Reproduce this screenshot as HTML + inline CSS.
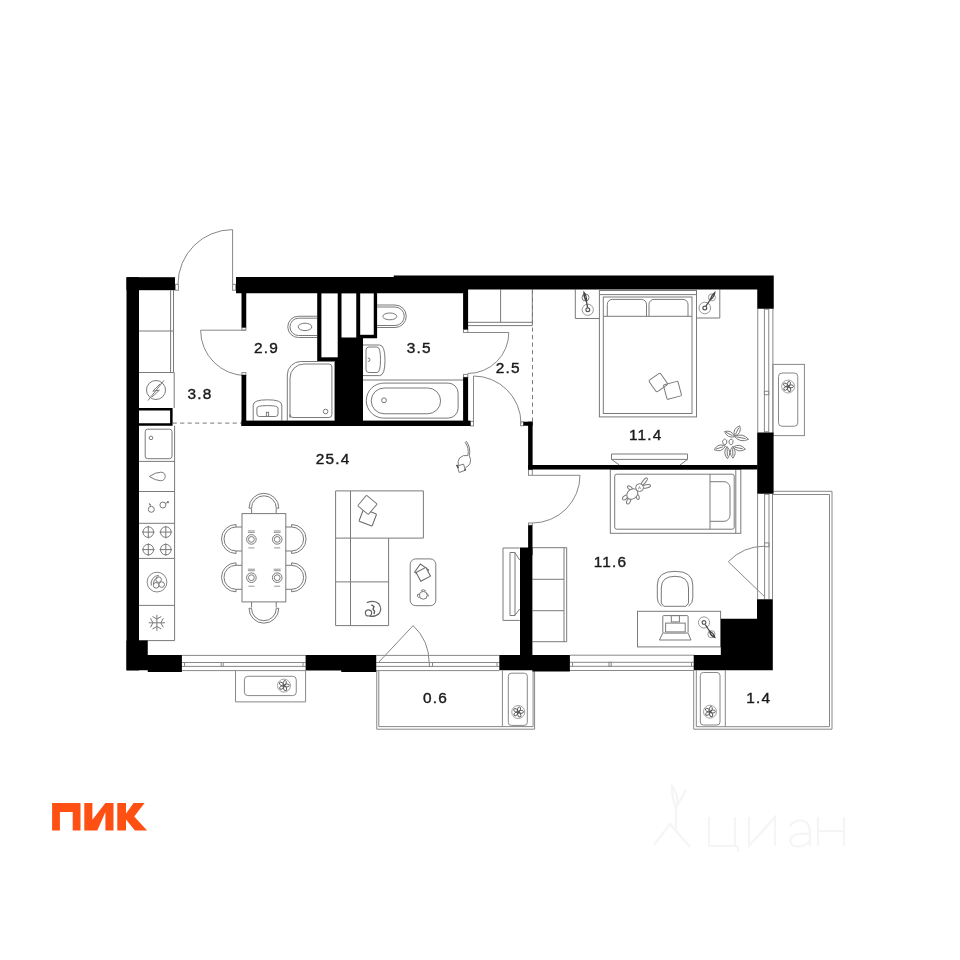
<!DOCTYPE html>
<html><head><meta charset="utf-8">
<style>
html,body{margin:0;padding:0;background:#fff;width:960px;height:960px;overflow:hidden}
svg{display:block;will-change:transform}
.t{font-family:"Liberation Sans",sans-serif;font-size:15.4px;fill:#1a1a1a;stroke:#1a1a1a;stroke-width:0.4px;letter-spacing:1.15px}
</style></head><body>
<svg width="960" height="960" viewBox="0 0 960 960">
<rect width="960" height="960" fill="#fff"/>

<!-- ============ FIXTURES (thin gray lines) ============ -->
<g id="fix" fill="none" stroke="#7a7a7a" stroke-width="1">
  <path d="M170.6,290.3 V372.5 M173.5,290.3 V372.5 M139,331 H173.5 M139,372.5 H174.2 M174.2,372.5 V408"/>
  <circle cx="156" cy="390" r="9.5"/><path d="M148,400.5 L164,380.3 M160.2,383.8 L152.8,391.2 L159.4,390.2 L152,397"/>
  <path d="M174.6,425.7 V640.6 M139,461.4 H174.6 M139,491.5 H174.6 M139,523.3 H174.6 M139,558.4 H174.6 M139,605.4 H174.6 M139,640.6 H174.6"/>
  <rect x="145.2" y="429.2" width="26.8" height="29.5" rx="2.5"/><circle cx="151" cy="437.9" r="1.8"/>
  <path d="M149.3,476.5 Q155.5,472.2 160.8,472.2 Q165.4,472.4 165.2,476.6 Q164.8,480.8 160.4,480.7 Q155.6,480.6 149.3,476.5 Z"/>
  <circle cx="151.3" cy="509.3" r="3"/><path d="M150.6,506.3 L149.3,503.6 L150.8,504.8"/><circle cx="162.9" cy="505" r="3"/><path d="M165.4,503.4 L168.6,501.8 M167,501.6 L168.6,501.8 L168,503.3"/>
  <circle cx="148.3" cy="532.1" r="5.3"/><path d="M142.0,532.1 H154.60000000000002 M148.3,525.8000000000001 V538.4"/>
  <circle cx="148.3" cy="549.6" r="5.3"/><path d="M142.0,549.6 H154.60000000000002 M148.3,543.3000000000001 V555.9"/>
  <circle cx="165.8" cy="532.1" r="5.3"/><path d="M159.5,532.1 H172.10000000000002 M165.8,525.8000000000001 V538.4"/>
  <circle cx="165.8" cy="549.6" r="5.3"/><path d="M159.5,549.6 H172.10000000000002 M165.8,543.3000000000001 V555.9"/>
  <circle cx="157" cy="582.1" r="9.9" stroke="#888"/><circle cx="158.6" cy="579.6" r="2.8"/><circle cx="156.1" cy="585.3" r="2.8"/><circle cx="161.7" cy="584.6" r="2.8"/><path d="M151.3,585.5 A8.2,8.2 0 0 1 158.8,575.3 M153.4,584.5 A6.6,6.6 0 0 1 158.3,577.4" stroke="#777"/>
  <path d="M148.8,622.8 H165 M156.9,614.8 V630.8 M152.5,616.5 L156.9,619 L161.3,616.5 M152.5,629 L156.9,626.5 L161.3,629 M150.5,618.3 L153,622.8 L150.5,627.3 M163.3,618.3 L160.8,622.8 L163.3,627.3"/>
  <path d="M172.6,423.1 H241.5" stroke-dasharray="4.2 3.3"/>
  <path d="M532.5,290 V421.7" stroke-dasharray="4.2 3.3"/>
  <rect x="242" y="513.6" width="43.8" height="88.3"/>
  <path d="M249.00,508.20 A14.9,14.9 0 0 1 278.80,508.20 L276.30,508.20 A12.4,12.4 0 0 0 251.50,508.20 Z"/>
  <path d="M251.6,508.5 V513.6 M276.2,508.5 V513.6"/>
  <path d="M278.80,608.30 A14.9,14.9 0 0 1 249.00,608.30 L251.50,608.30 A12.4,12.4 0 0 0 276.30,608.30 Z"/>
  <path d="M251.6,601.9 V607.5 M276.2,601.9 V607.5"/>
  <path d="M236.00,553.50 A14.5,14.5 0 0 1 236.00,524.50 L236.00,527.00 A12.0,12.0 0 0 0 236.00,551.00 Z"/><path d="M236,527 H242 M236,551 H242"/>
  <path d="M291.60,524.50 A14.5,14.5 0 0 1 291.60,553.50 L291.60,551.00 A12.0,12.0 0 0 0 291.60,527.00 Z"/><path d="M285.8,527 H291.6 M285.8,551 H291.6"/>
  <path d="M236.00,591.80 A14.5,14.5 0 0 1 236.00,562.80 L236.00,565.30 A12.0,12.0 0 0 0 236.00,589.30 Z"/><path d="M236,565.3 H242 M236,589.3 H242"/>
  <path d="M291.60,562.80 A14.5,14.5 0 0 1 291.60,591.80 L291.60,589.30 A12.0,12.0 0 0 0 291.60,565.30 Z"/><path d="M285.8,565.3 H291.6 M285.8,589.3 H291.6"/>
  <circle cx="251.4" cy="539.4" r="4.8"/><circle cx="251.4" cy="539.4" r="2.9"/><path d="M247.9,530.9 H254.9 M247.9,532.4 H254.9 M248.4,547.9 H254.4" stroke-width="0.8"/>
  <circle cx="251.4" cy="577.7" r="4.8"/><circle cx="251.4" cy="577.7" r="2.9"/><path d="M247.9,569.2 H254.9 M247.9,570.7 H254.9 M248.4,586.2 H254.4" stroke-width="0.8"/>
  <circle cx="277.2" cy="539.4" r="4.8"/><circle cx="277.2" cy="539.4" r="2.9"/><path d="M273.7,530.9 H280.7 M273.7,532.4 H280.7 M274.2,547.9 H280.2" stroke-width="0.8"/>
  <circle cx="277.2" cy="577.7" r="4.8"/><circle cx="277.2" cy="577.7" r="2.9"/><path d="M273.7,569.2 H280.7 M273.7,570.7 H280.7 M274.2,586.2 H280.2" stroke-width="0.8"/>
  <path d="M335.6,490.9 H423.4 V538.1 H388.6 V625.6 H335.6 Z M350.5,490.9 V625.6 M335.6,538.1 H388.6 M335.6,581.9 H388.6"/>
  <rect x="-7" y="-6.5" width="14" height="13" rx="1" transform="translate(367.8,517.6) rotate(21)" stroke="#666"/>
  <rect x="-6.9" y="-6.9" width="13.8" height="13.8" rx="1" transform="translate(367.4,504.9) rotate(40)" fill="#fff"/>
  <path d="M366.8,602.6 Q374.5,599.5 379,604 Q382.3,609 379.2,613.5 Q375.5,617 369.8,616.3" stroke="#666" stroke-width="1.2"/><circle cx="368.5" cy="612.9" r="3.1" stroke="#666" stroke-width="1.2"/><path d="M371.3,604.8 L374,606.5 L373,609.2 L374.6,611.5 L374,614" stroke="#555" stroke-width="1.3"/>
  <rect x="410.2" y="558.9" width="25.6" height="46.8" rx="5.5"/>
  <rect x="-5" y="-5" width="10" height="10" transform="translate(421.6,571) rotate(35)" stroke="#666"/><rect x="-5.5" y="-5" width="11" height="10" transform="translate(423.3,574.3) rotate(-28)" fill="#fff" stroke="#666"/>
  <circle cx="423.3" cy="595.3" r="3.9" stroke="#777"/><path d="M419.5,594 Q416.8,593.5 417.5,596.5 Q418.3,598 419.8,597 M426.8,593.5 Q428.5,594 428.4,596.5 M421,590.5 Q423.5,588.8 425.8,590.8" stroke="#777"/>
  <path d="M519.7,548 H503 V620.4 H519.7 M510,552.5 H515 V615.5 H510 Z M514.8,552.5 L519.7,560 M514.8,615.5 L519.7,609"/>
  <path d="M465.2,442.3 Q469.2,447.5 467.9,455.6 M466.6,441.6 Q470.8,447.5 469.4,455.8 M465.3,442.3 Q465.8,441.3 466.6,441.6"/><path d="M467.9,455.6 Q463,454.5 459.5,458 Q457.5,461 458.3,465.5 M469.4,455.8 Q471.5,459.5 470,463.5 Q468.5,466.5 465.5,467.5"/><path d="M457.2,466 L463.5,464.2 L465.5,470.2 L459.2,472.5 Z"/><path d="M456.5,465 L458.6,467.8 M464.4,470.5 L465.8,468.8" stroke-width="1.3" stroke="#444"/>
  <path d="M317,316.25 H298.4 A10.6,10.6 0 0 0 298.4,337.5 H317 M317,318.2 H298.6 A8.65,8.65 0 0 0 298.6,335.5 H317"/><ellipse cx="305" cy="326.9" rx="6.8" ry="3.7"/>
  <path d="M287.3,420.6 V375 A13.5,13.5 0 0 1 300.8,361.5 H334.8 V420.6"/><path d="M290,417.5 V378 A14,14 0 0 1 304,364 H328.9 A3,3 0 0 1 331.9,367 V414.5 A3,3 0 0 1 328.9,417.5 H293 A3,3 0 0 1 290,414.5 Z"/><circle cx="325.6" cy="411.5" r="2.3"/>
  <path d="M253.2,420.6 V405 Q253.2,399.8 267.5,399.8 Q281.8,399.8 281.8,405 V420.6"/><path d="M256.9,408 Q256.9,405.6 267.5,405.6 Q278,405.6 278,408 V414 Q278,416.5 275.5,416.5 H259.4 Q256.9,416.5 256.9,414 Z"/><rect x="266.4" y="412.3" width="2.2" height="4"/>
  <path d="M377.1,305 H395 A11.25,11.25 0 0 1 395,327.5 H377.1 M377.1,307 H395 A9.25,9.25 0 0 1 395,325.5 H377.1"/><ellipse cx="389.8" cy="316.4" rx="7" ry="3.4"/>
  <path d="M362.9,345 H379.5 Q385,345 385,360.3 Q385,375.6 379.5,375.6 H362.9"/><path d="M366,350 Q366,347 369,347 H377 Q380.5,347 380.5,359.8 Q380.5,372.5 377,372.5 H369 Q366,372.5 366,369.5 Z"/><path d="M367.8,358 Q370,358 370,359.8 Q370,361.5 367.8,361.5"/>
  <path d="M363,380 H463.1"/><path d="M383.8,383.1 H448.1 A10,10 0 0 1 458.1,393.1 V408.1 A10,10 0 0 1 448.1,418.1 H383.8 A17.5,17.5 0 0 1 383.8,383.1 Z"/><rect x="371.25" y="388" width="69.35" height="25.75" rx="12.875"/><circle cx="384" cy="400.25" r="2.4"/>
  <path d="M468,325.6 H532.3 V289.5 M468,322.3 H532.3 M500.6,289.5 V322.3"/>
  <path d="M575.3,289.5 V318.5 H599.4 M696.5,318 H719.8 V289.5"/>
  <rect x="599.4" y="290.5" width="97.1" height="126.4"/><path d="M599.4,294.6 H696.5"/><rect x="603.3" y="297" width="88.7" height="116.5"/><path d="M603.3,316.3 H692"/>
  <path d="M607.3,316.3 V304.4 A5,5 0 0 1 612.3,299.4 H641.5 A5,5 0 0 1 646.5,304.4 V316.3 M649,316.3 V304.4 A5,5 0 0 1 654,299.4 H683 A5,5 0 0 1 688,304.4 V316.3"/>
  <circle cx="587.8" cy="309.8" r="5.6" stroke="#999"/><circle cx="587.8" cy="309.8" r="1.9" stroke="#555" stroke-width="1.2"/><circle cx="585.5" cy="297.5" r="3.5" stroke="#777"/><path d="M587.6,307.6 L586.5,301.5 M586.5,301.5 Q583.5,297 584,292.3 Q586.8,296 586.5,301.5 Z" stroke="#444" stroke-width="1.3"/>
  <circle cx="704.8" cy="308" r="5.8" stroke="#999"/><circle cx="704.8" cy="308" r="1.9" stroke="#555" stroke-width="1.2"/><circle cx="711.9" cy="297.4" r="3.5" stroke="#999"/><path d="M706,306 L710,300 M710,300 Q711.5,295 714.8,292.5 Q714,297.5 710,300 Z" stroke="#444" stroke-width="1.3"/>
  <rect x="-7" y="-7" width="14" height="14" rx="1.5" transform="translate(658.3,382.5) rotate(-35)"/><rect x="-7.5" y="-7.5" width="15" height="15" rx="1" transform="translate(672.5,390.3) rotate(-15)"/>
  <path d="M611.5,454 H687.5 V459.4 H611.5 Z M611.5,459.4 L619.4,465 M687.5,459.4 L680,465"/>
  <path id="plant" d="M734.5,436.2 Q742.1,433.5 739.8,425.8 Q732.2,428.5 734.5,436.2 Z M735.3,434.6 L738.7,427.9 M724.6,431.5 Q727.2,438.5 734.5,436.7 Q731.9,429.7 724.6,431.5 Z M726.1,432.3 L732.5,435.7 M734.5,436.5 Q740.4,443.3 748.5,439.3 Q742.6,432.5 734.5,436.5 Z M736.6,436.9 L745.7,438.7 M714.2,449.7 Q721.6,453.1 725.5,446.0 Q718.1,442.6 714.2,449.7 Z M715.9,449.1 L723.2,446.7 M733.0,447.0 Q738.2,453.5 745.4,449.2 Q740.2,442.7 733.0,447.0 Z M734.9,447.3 L742.9,448.8 M727.0,446.5 Q722.3,452.9 727.5,458.8 Q732.2,452.4 727.0,446.5 Z M727.1,448.3 L727.4,456.3 M732.5,446.5 Q727.8,452.6 733.0,458.2 Q737.7,452.1 732.5,446.5 Z M732.6,448.3 L732.9,455.9"/><path d="M722.5,441.5 Q724,437.5 726.5,440 Q728,443.5 725,445 Q722.5,444.5 722.5,441.5 Z M729,441 Q731,437.5 733,440.5 Q733.5,444 731,445 Q728.5,444 729,441 Z"/>
  <rect x="610.3" y="469.5" width="130.5" height="63.8"/><path d="M735.8,469.5 V533.3"/><rect x="614.7" y="474.2" width="119.5" height="55" rx="2"/><path d="M710,474.2 V529.2 M710,481.7 H724 A6,6 0 0 1 730,487.7 V515.3 A6,6 0 0 1 724,521.3 H710"/>
  <ellipse cx="644.3" cy="481.5" rx="4.4" ry="1.5" transform="rotate(-52 644.3 481.5)"/><ellipse cx="646.3" cy="486.4" rx="4.3" ry="1.6" transform="rotate(-12 646.3 486.4)"/><ellipse cx="629.9" cy="487.9" rx="2.7" ry="1.5" transform="rotate(35 629.9 487.9)"/><ellipse cx="637.6" cy="496.8" rx="2.7" ry="1.5" transform="rotate(75 637.6 496.8)"/><ellipse cx="625.1" cy="497.5" rx="3.1" ry="1.7" transform="rotate(-40 625.1 497.5)"/><ellipse cx="628.6" cy="501.1" rx="3.1" ry="1.7" transform="rotate(-62 628.6 501.1)"/><ellipse cx="632.3" cy="494" rx="6" ry="4.7" transform="rotate(-40 632.3 494)" fill="#fff"/><circle cx="639.6" cy="487.6" r="3.9" fill="#fff"/><path d="M638.5,489 L639.5,486.5 L640.5,489" stroke-width="0.7"/>
  <path d="M532.4,547.7 H566.7 V641.7 H532.4 M564,547.7 V641.7 M532.4,579.3 H564 M532.4,610.7 H564"/>
  <path d="M661.5,606.3 Q657.3,603 657.3,598 V585 Q657.3,571.3 675,571.3 Q692.8,571.3 692.8,585 V598 Q692.8,603 688.5,606.3 M661.3,603 V588 Q661.3,576.3 675,576.3 Q688.5,576.3 688.5,588 V603 L686,606.3 H663.8 Z"/>
  <rect x="637.5" y="611.3" width="83.1" height="35.6"/>
  <rect x="662.8" y="615.6" width="25.3" height="17.5" rx="1"/><rect x="671.3" y="615.6" width="8.1" height="6.3"/><rect x="665.6" y="623.1" width="19.6" height="8.8"/><path d="M662.8,633.1 L659.4,640 H691 L688.1,633.1"/>
  <circle cx="704" cy="622.5" r="5.6" stroke="#999"/><circle cx="704" cy="622.5" r="1.9" stroke="#555" stroke-width="1.2"/><circle cx="711.4" cy="634.2" r="3.6" stroke="#999"/><path d="M705.2,624.5 L709.5,631 M709.5,631 Q713.5,633 714.8,637.3 Q710.5,636 709.5,631 Z" stroke="#444" stroke-width="1.3"/>
</g>

<!-- ============ WINDOWS / BALCONIES ============ -->
<g id="win" fill="none" stroke="#888" stroke-width="1">
  <!-- right window bedroom1 -->
  <path d="M757.75,308.75 V432.5 M764.4,308.75 V432.5 M768.75,308.75 V432.5 M772.9,308.75 V432.5 M764.4,309.2 H768.75 M764.4,431.8 H768.75"/>
  <rect x="764.4" y="391.25" width="4.35" height="3.5"/>
  <!-- right balcony door bedroom2 -->
  <path d="M757.6,493.75 V599.2 M764.6,493.75 V599.2 M769,493.75 V599.2 M772.5,493.75 V599.2 M764.6,494.3 H769"/>
  <rect x="764.6" y="542.9" width="4.4" height="3.8"/>
  <!-- bottom window left -->
  <path d="M181.9,655.4 H305.6 M181.9,662.5 H305.6 M181.9,666.4 H305.6 M181.9,670.6 H305.6 M184.5,662.5 V666.4 M303,662.5 V666.4"/>
  <rect x="221.2" y="662.5" width="2" height="3.9"/>
  <!-- bottom door living -->
  <path d="M376.25,655.4 H499.3 M376.25,662.5 H499.3 M376.25,666.4 H499.3 M376.25,670.6 H499.3 M497,662.5 V666.4"/>
  <rect x="429.4" y="662.5" width="3.1" height="4"/>
  <!-- bottom window bedroom2 -->
  <path d="M569.9,655.2 H693.9 M569.9,662.3 H693.9 M569.9,666.3 H693.9 M569.9,670.5 H693.9 M572.5,662.3 V666.3 M691.5,662.3 V666.3"/>
  <rect x="609" y="662.3" width="2.2" height="4"/>
  <!-- balcony 0.6 -->
  <path d="M376.75,670.6 V729.2 H534.6 V670.6 M378.8,670.6 V726.6 H533.1 V670.6"/>
  <path d="M502.4,670.6 V726.6"/>
  <rect x="508.3" y="673.2" width="19" height="52.2" rx="3"/>
  <!-- balcony 1.4 -->
  <path d="M773.6,491.3 H832 V729.2 H693.7 V670.3 M772.2,494.5 H829.5 V726.7 H696.3 V670.3"/>
  <path d="M725.3,670.3 V726.7"/>
  <rect x="700.3" y="672.5" width="19.7" height="52.5" rx="3"/>
  <!-- AC right -->
  <rect x="772.9" y="364.4" width="31.5" height="71.2"/>
  <rect x="778.5" y="373" width="19.25" height="53.25" rx="3.5"/>
  <!-- AC bottom-left -->
  <path d="M235.5,670.6 V701.9 H305.6 V670.6"/>
  <rect x="244.4" y="676.25" width="51.85" height="19.35" rx="3.5"/>
</g>

<!-- ============ DOORS ============ -->
<g id="doors" fill="none" stroke="#888" stroke-width="1">
  <!-- entrance -->
  <rect x="175.4" y="284.3" width="3" height="5.9"/>
  <rect x="232.6" y="284.3" width="3" height="5.9"/>
  <path d="M232.6,284.3 V229.6 A54.6,54.6 0 0 0 178,284.3"/>
  <!-- bath 2.9 -->
  <rect x="241.9" y="327.6" width="4" height="2.6"/>
  <rect x="241.9" y="372.6" width="4" height="2.5"/>
  <path d="M245.9,330.2 H200.6 A45.3,45.3 0 0 0 245.9,375.5"/>
  <!-- bath 3.5 -->
  <rect x="463.5" y="329.4" width="4.3" height="3.1"/>
  <rect x="463.5" y="374.4" width="4.3" height="2.9"/>
  <path d="M467.8,332.5 H508.8 A41,41 0 0 1 467.8,373.5"/>
  <!-- hall to living -->
  <rect x="470.5" y="421.4" width="3" height="4.5"/>
  <rect x="520.6" y="421.8" width="2.8" height="3.9"/>
  <path d="M473.5,421.4 V376 A47.5,47.5 0 0 1 521,423.5"/>
  <!-- bedroom2 door -->
  <rect x="528.5" y="469.6" width="3.8" height="5.7"/>
  <rect x="528.5" y="523" width="3.8" height="2.3"/>
  <path d="M532.3,475.3 H580 A47.7,47.7 0 0 1 532.3,523"/>
  <!-- balcony door living -->
  <path d="M378.5,662.5 L413.1,625.6 A50.6,50.6 0 0 1 429.1,662.5"/>
  <!-- balcony door bedroom2 -->
  <path d="M764.6,596.7 L728.3,561.7 A50.5,50.5 0 0 1 764.6,546.2"/>
</g>

<!-- ============ WALLS ============ -->
<g id="walls" fill="#000">
  <rect x="126.5" y="277.2" width="48.5" height="13"/>
  <rect x="126.5" y="277.2" width="12.5" height="393.2"/>
  <path d="M236,277 L393.75,277 L393.75,275.6 L773.75,275.6 L773.75,308.75 L757.25,308.75 L757.25,289.5 L468,289.5 L468,293.3 L236,293.3 Z"/>
  <rect x="241.5" y="293" width="4.75" height="34.5"/>
  <rect x="241.5" y="375" width="4.75" height="51"/>
  <rect x="241.5" y="420.6" width="229" height="5.4"/>
  <rect x="463.1" y="289" width="5" height="40.4"/>
  <rect x="463.1" y="377.25" width="5" height="48.75"/>
  <path d="M317.2,293 L377.1,293 L377.1,338.2 L363,338.2 L363,426 L334.9,426 L334.9,361.1 L317.2,361.1 Z"/>
  <rect x="523.4" y="421.7" width="9.2" height="4.05"/>
  <rect x="528.1" y="421.7" width="4.5" height="47.8"/>
  <rect x="528.1" y="465" width="229.5" height="4.5"/>
  <rect x="528.1" y="525.3" width="4.4" height="30"/>
  <rect x="520" y="547.5" width="12.4" height="110"/>
  <path d="M499.3,655 L569.9,655 L569.9,671.5 L532.4,671.5 L532.4,670.3 L499.3,670.3 Z"/>
  <rect x="757.2" y="432.5" width="16.4" height="61.25"/>
  <path d="M757,599.2 L772.8,599.2 L772.8,670.3 L693.7,670.3 L693.7,655 L720.8,655 L720.8,618.7 L757,618.7 Z"/>
  <path d="M126.5,640.6 L147.75,640.6 L147.75,655 L181.9,655 L181.9,671.9 L147.75,671.9 L147.75,670.3 L126.5,670.3 Z"/>
  <path d="M305.6,655 L376.25,655 L376.25,671.9 L341.25,671.9 L341.25,670.6 L305.6,670.6 Z"/>
  <!-- kitchen thick outline box -->
  <path d="M139,408 L172.6,408 L172.6,425.7 L139,425.7 Z M139,410.5 L139,423.2 L170.1,423.2 L170.1,410.5 Z" fill-rule="evenodd"/>
</g>
<g fill="#fff">
  <rect x="321.4" y="293.4" width="16.3" height="63.9"/>
  <rect x="341.5" y="293.4" width="14.75" height="44.1"/>
  <rect x="360.2" y="293.4" width="13.55" height="41.4"/>
</g>

<g id="fans" fill="none" stroke="#555" stroke-width="0.9"><circle cx="788.1" cy="386.5" r="6.5" stroke="#999"/><ellipse cx="788.80" cy="383.89" rx="2.6" ry="1.5" transform="rotate(-75 788.80 383.89)"/><ellipse cx="790.80" cy="386.36" rx="2.6" ry="1.5" transform="rotate(-3 790.80 386.36)"/><ellipse cx="789.07" cy="389.02" rx="2.6" ry="1.5" transform="rotate(69 789.07 389.02)"/><ellipse cx="786.00" cy="388.20" rx="2.6" ry="1.5" transform="rotate(141 786.00 388.20)"/><ellipse cx="785.84" cy="385.03" rx="2.6" ry="1.5" transform="rotate(213 785.84 385.03)"/><circle cx="788.1" cy="386.5" r="0.9" fill="#555" stroke="none"/><circle cx="284" cy="685.6" r="6.5" stroke="#999"/><ellipse cx="284.70" cy="682.99" rx="2.6" ry="1.5" transform="rotate(-75 284.70 682.99)"/><ellipse cx="286.70" cy="685.46" rx="2.6" ry="1.5" transform="rotate(-3 286.70 685.46)"/><ellipse cx="284.97" cy="688.12" rx="2.6" ry="1.5" transform="rotate(69 284.97 688.12)"/><ellipse cx="281.90" cy="687.30" rx="2.6" ry="1.5" transform="rotate(141 281.90 687.30)"/><ellipse cx="281.74" cy="684.13" rx="2.6" ry="1.5" transform="rotate(213 281.74 684.13)"/><circle cx="284" cy="685.6" r="0.9" fill="#555" stroke="none"/><circle cx="518.25" cy="712" r="6.5" stroke="#999"/><ellipse cx="518.95" cy="709.39" rx="2.6" ry="1.5" transform="rotate(-75 518.95 709.39)"/><ellipse cx="520.95" cy="711.86" rx="2.6" ry="1.5" transform="rotate(-3 520.95 711.86)"/><ellipse cx="519.22" cy="714.52" rx="2.6" ry="1.5" transform="rotate(69 519.22 714.52)"/><ellipse cx="516.15" cy="713.70" rx="2.6" ry="1.5" transform="rotate(141 516.15 713.70)"/><ellipse cx="515.99" cy="710.53" rx="2.6" ry="1.5" transform="rotate(213 515.99 710.53)"/><circle cx="518.25" cy="712" r="0.9" fill="#555" stroke="none"/><circle cx="710" cy="711.7" r="6.5" stroke="#999"/><ellipse cx="710.70" cy="709.09" rx="2.6" ry="1.5" transform="rotate(-75 710.70 709.09)"/><ellipse cx="712.70" cy="711.56" rx="2.6" ry="1.5" transform="rotate(-3 712.70 711.56)"/><ellipse cx="710.97" cy="714.22" rx="2.6" ry="1.5" transform="rotate(69 710.97 714.22)"/><ellipse cx="707.90" cy="713.40" rx="2.6" ry="1.5" transform="rotate(141 707.90 713.40)"/><ellipse cx="707.74" cy="710.23" rx="2.6" ry="1.5" transform="rotate(213 707.74 710.23)"/><circle cx="710" cy="711.7" r="0.9" fill="#555" stroke="none"/></g>
<g class="t">
  <text x="254" y="353.1">2.9</text>
  <text x="406.8" y="353.1">3.5</text>
  <text x="495.8" y="372.8">2.5</text>
  <text x="187.5" y="399.4">3.8</text>
  <text x="315.8" y="464.3">25.4</text>
  <text x="629" y="439.8">11.4</text>
  <text x="593.8" y="566.7">11.6</text>
  <text x="423" y="703.1">0.6</text>
  <text x="746.3" y="703.3">1.4</text>
</g>
<!-- logo -->
<g id="logo" fill="#ff5014">
  <path d="M52.1,802.9 H80.5 V830.5 H72.7 V811.9 H59.9 V830.5 H52.1 Z"/>
  <path d="M84.3,802.9 H92.4 V819.7 L105.4,802.9 H113.5 V830.5 H105.4 V812 L97.3,830.5 H84.3 Z"/>
  <path d="M117.3,802.9 H126 V813.5 L133.6,802.9 H144.6 L134.2,816.5 L147.1,830.5 H134.9 L126,819.5 V830.5 H117.3 Z"/>
</g>
<g id="wm" fill="none" stroke="#f5f5f5" stroke-width="2.2">
  <path d="M709,817 V846 H738 M735,817 V846 M738,846 V852"/>
  <path d="M749,817 V846 L775,817 V846"/>
  <path d="M790,826 Q796,818 806,822 Q810,826 810,834 V846 M810,834 Q792,832 790,840 Q791,848 802,846 Q808,844 810,840"/>
  <path d="M818,817 V846 M844,817 V846 M818,831 H844"/>
  <path d="M672,786 Q680,795 676,808 Q672,800 672,786 Z M676,808 L686,790 M676,808 V832 M654,845 L670,824 L690,847"/>
</g>

</svg>
</body></html>
